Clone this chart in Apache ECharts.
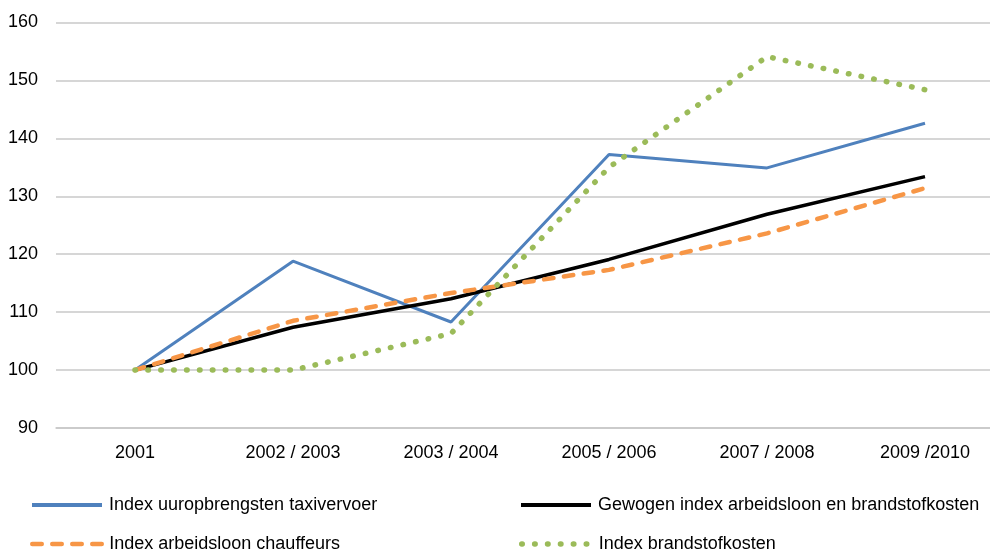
<!DOCTYPE html>
<html>
<head>
<meta charset="utf-8">
<script src="https://cdn.jsdelivr.net/npm/echarts@6/dist/echarts.min.js"></script>
<style>
html,body{margin:0;padding:0;background:#fff;overflow:hidden;width:990px;height:554px;}
#chart{width:1010px;height:554px;}
</style>
</head>
<body>
<div id="chart"></div>
<script>
var categories = ['2001', '2002 / 2003', '2003 / 2004', '2005 / 2006', '2007 / 2008', '2009 /2010'];
var seriesNames = [
  'Index uuropbrengsten taxivervoer',
  'Gewogen index arbeidsloon en brandstofkosten',
  'Index arbeidsloon chauffeurs',
  'Index brandstofkosten'
];
var uuropbrengsten = [100, 118.8, 108.3, 137.2, 134.9, 142.6];
var gewogenIndex = [100, 107.4, 112.3, 119.1, 126.9, 133.4];
var arbeidsloon = [100, 108.5, 113.3, 117.3, 123.6, 131.4];
var brandstofkosten = [100, 100, 106.3, 135.0, 154.1, 148.4];

var FONT = '"Liberation Sans", Arial, sans-serif';
var chart = echarts.init(document.getElementById('chart'), null, {renderer: 'canvas', width: 1010, height: 554});

function legendAt(name, left, top, lw) {
  return {
    data: [name],
    left: left,
    top: top,
    padding: 0,
    itemWidth: 70,
    itemHeight: 20,
    itemGap: 0,
    selectedMode: false,
    itemStyle: {opacity: 0},
    lineStyle: {width: lw},
    textStyle: {fontFamily: FONT, fontSize: 18, color: '#000', padding: [0, 0, 0, 2]}
  };
}

chart.setOption({
  animation: false,
  backgroundColor: '#fff',
  grid: {left: 56, top: 22.5, width: 948, height: 405.5, containLabel: false},
  legend: [
    legendAt(seriesNames[0], 30, 496, 4),
    legendAt(seriesNames[1], 519, 496, 4),
    legendAt(seriesNames[2], 30, 535, 4.5),
    legendAt(seriesNames[3], 519, 535, 5.5)
  ],
  xAxis: {
    type: 'category',
    data: categories,
    boundaryGap: true,
    axisTick: {show: false},
    axisLine: {show: true, lineStyle: {color: '#C8C8C8', width: 1.5}},
    axisLabel: {fontFamily: FONT, fontSize: 18, color: '#000', margin: 16}
  },
  yAxis: {
    type: 'value',
    min: 90,
    max: 160,
    interval: 10,
    axisLine: {show: false},
    axisTick: {show: false},
    axisLabel: {fontFamily: FONT, fontSize: 18, color: '#000', margin: 18},
    splitLine: {show: true, lineStyle: {color: '#C8C8C8', width: 1.5}}
  },
  series: [
    {
      name: seriesNames[0], type: 'line', data: uuropbrengsten,
      symbol: 'none', color: '#4F81BD',
      lineStyle: {color: '#4F81BD', width: 3}
    },
    {
      name: seriesNames[1], type: 'line', data: gewogenIndex,
      symbol: 'none', color: '#000000',
      lineStyle: {color: '#000000', width: 3.5}
    },
    {
      name: seriesNames[2], type: 'line', data: arbeidsloon,
      symbol: 'none', color: '#F79646',
      lineStyle: {color: '#F79646', width: 4.5, type: [9.5, 10.5], cap: 'round'}
    },
    {
      name: seriesNames[3], type: 'line', data: brandstofkosten,
      symbol: 'none', color: '#9BBB59',
      lineStyle: {color: '#9BBB59', width: 5.5, type: [0.5, 12.4], cap: 'round'}
    }
  ]
});
</script>
</body>
</html>
